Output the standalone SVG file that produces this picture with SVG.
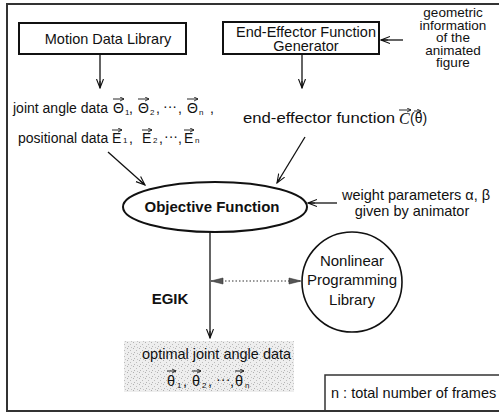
<svg xmlns="http://www.w3.org/2000/svg" width="499" height="414" viewBox="0 0 499 414">
<style>
  text { font-family: "Liberation Sans", Arial, sans-serif; fill: #111; }
  .t { font-size: 14.5px; }
  .c { font-size: 15px; }
  .g { font-size: 13.5px; }
  .s { font-size: 14px; }
  .sub { font-size: 8px; }
  .b { font-weight: bold; font-size: 15px; }
  .m { text-anchor: middle; }
  .box { fill: #fff; stroke: #111; stroke-width: 2; }
  .conn { stroke: #111; stroke-width: 1.3; fill: none; }
  .vec { stroke: #111; stroke-width: 0.9; fill: none; marker-end: url(#vh); }
</style>
<defs>
  <marker id="ah" viewBox="0 0 10 10" refX="9" refY="5" markerWidth="10" markerHeight="10" markerUnits="userSpaceOnUse" orient="auto">
    <path d="M0,1.5 L9,5 L0,8.5 M2,5 L9,5" fill="none" stroke="#111" stroke-width="1.1"/>
  </marker>
  <marker id="dh" viewBox="0 0 12 8" refX="12" refY="4" markerWidth="14" markerHeight="8" markerUnits="userSpaceOnUse" orient="auto-start-reverse">
    <path d="M0,1 L12,4 L0,7 Z" fill="#555" stroke="#333" stroke-width="0.6"/>
  </marker>
  <marker id="vh" viewBox="0 0 6 6" refX="5" refY="3" markerWidth="5" markerHeight="5" markerUnits="userSpaceOnUse" orient="auto">
    <path d="M0,0.5 L5,3 L0,5.5" fill="none" stroke="#111" stroke-width="1"/>
  </marker>
  <pattern id="stip" width="6" height="6" patternUnits="userSpaceOnUse">
    <rect width="6" height="6" fill="#eeeeee"/>
    <rect x="1" y="0" width="1" height="1" fill="#b0b0b0"/>
    <rect x="4" y="2" width="1" height="1" fill="#bcbcbc"/>
    <rect x="2" y="4" width="1" height="1" fill="#b5b5b5"/>
    <rect x="5" y="5" width="1" height="1" fill="#c4c4c4"/>
  </pattern>
</defs>

<!-- frame -->
<path d="M499,4 H7 V411 H499" fill="none" stroke="#333" stroke-width="2"/>

<g id="motion-data-library">
  <rect class="box" x="19" y="23" width="167" height="31"/>
  <text class="t m" x="108" y="44">Motion Data Library</text>
</g>

<g id="end-effector-generator">
  <rect class="box" x="223" y="22" width="156" height="32"/>
  <text class="t m" x="306" y="37">End-Effector Function</text>
  <text class="t m" x="306" y="51">Generator</text>
</g>

<g id="geometric-info">
  <text class="g m" x="453" y="17">geometric</text>
  <text class="g m" x="453" y="29.5">information</text>
  <text class="g m" x="453" y="42">of the</text>
  <text class="g m" x="453" y="54.5">animated</text>
  <text class="g m" x="453" y="67">figure</text>
</g>

<g id="joint-positional-data">
  <text class="s" x="13" y="113">joint angle data</text>
  <text class="s" x="113" y="113">Θ</text><text class="sub" x="125" y="115">1</text><text class="s" x="129" y="113">,</text>
  <text class="s" x="138" y="113">Θ</text><text class="sub" x="150" y="115">2</text><text class="s" x="156" y="113">,</text>
  <text class="s" x="163" y="111">···</text><text class="s" x="178" y="113">,</text>
  <text class="s" x="187" y="113">Θ</text><text class="sub" x="199" y="115">n</text><text class="s" x="210" y="113">,</text>
  <path class="vec" d="M113,99 H124"/><path class="vec" d="M138,99 H149"/><path class="vec" d="M187,99 H198"/>
  <text class="s" x="18" y="143">positional data</text>
  <text class="s" x="112" y="143">E</text><text class="sub" x="123" y="143">1</text><text class="s" x="129" y="143">,</text>
  <text class="s" x="142" y="143">E</text><text class="sub" x="153" y="143">2</text><text class="s" x="159" y="143">,</text>
  <text class="s" x="164" y="141">···</text><text class="s" x="178" y="143">,</text>
  <text class="s" x="184" y="143">E</text><text class="sub" x="195" y="143">n</text>
  <path class="vec" d="M112,130 H122"/><path class="vec" d="M142,130 H152"/><path class="vec" d="M184,130 H194"/>
</g>

<g id="end-effector-function">
  <text class="t" x="243" y="123" textLength="152" lengthAdjust="spacingAndGlyphs">end-effector function</text>
  <text x="399" y="124" style="font-family:'Liberation Serif',serif;font-style:italic;font-size:16px">C</text>
  <text class="s" x="410" y="123">(θ)</text>
  <path class="vec" d="M399,110 H411"/><path class="vec" d="M414,111 H421"/>
</g>

<g id="objective-function">
  <ellipse cx="215" cy="207" rx="92" ry="25" fill="#fff" stroke="#111" stroke-width="2"/>
  <text class="b m" x="212" y="212">Objective Function</text>
</g>

<g id="weight-parameters">
  <text class="t" x="342" y="200">weight parameters α, β</text>
  <text class="t m" x="412" y="216">given by animator</text>
</g>

<g id="nonlinear-programming-library">
  <circle cx="352" cy="282" r="50" fill="#fff" stroke="#111" stroke-width="1.6"/>
  <text class="c m" x="352" y="266">Nonlinear</text>
  <text class="c m" x="352" y="285">Programming</text>
  <text class="c m" x="352" y="305">Library</text>
</g>

<g id="egik">
  <text class="b m" x="170" y="304">EGIK</text>
</g>

<g id="optimal-joint-angle-data">
  <rect x="124" y="341" width="170" height="51" fill="url(#stip)"/>
  <text class="t" x="142" y="359">optimal joint angle data</text>
  <text class="t" x="167" y="386">θ</text><text class="sub" x="177" y="388">1</text><text class="t" x="183" y="386">,</text>
  <text class="t" x="192" y="386">θ</text><text class="sub" x="202" y="388">2</text><text class="t" x="208" y="386">,</text>
  <text class="t" x="216" y="384">···</text><text class="t" x="230" y="386">,</text>
  <text class="t" x="235" y="386">θ</text><text class="sub" x="245" y="388">n</text>
  <path class="vec" d="M167,371 H176"/><path class="vec" d="M192,371 H201"/><path class="vec" d="M235,371 H244"/>
</g>

<g id="note">
  <path d="M499,375 H325 V411" fill="none" stroke="#333" stroke-width="1.5"/>
  <text class="t" x="331" y="398">n : total number of frames</text>
</g>

<g id="connectors">
  <line class="conn" x1="100" y1="54" x2="100" y2="88" marker-end="url(#ah)"/>
  <line class="conn" x1="302" y1="54" x2="302" y2="88" marker-end="url(#ah)"/>
  <line class="conn" x1="403" y1="40" x2="381" y2="40" marker-end="url(#ah)"/>
  <line class="conn" x1="108" y1="152" x2="145" y2="185" marker-end="url(#ah)"/>
  <line class="conn" x1="305" y1="137" x2="277" y2="183" marker-end="url(#ah)"/>
  <line class="conn" x1="337" y1="203" x2="308" y2="203" marker-end="url(#ah)"/>
  <line class="conn" x1="210" y1="232" x2="210" y2="338" marker-end="url(#ah)"/>
  <line x1="211" y1="281" x2="301" y2="281" stroke="#333" stroke-width="1.2" stroke-dasharray="1.5,2" marker-start="url(#dh)" marker-end="url(#dh)"/>
</g>
</svg>
